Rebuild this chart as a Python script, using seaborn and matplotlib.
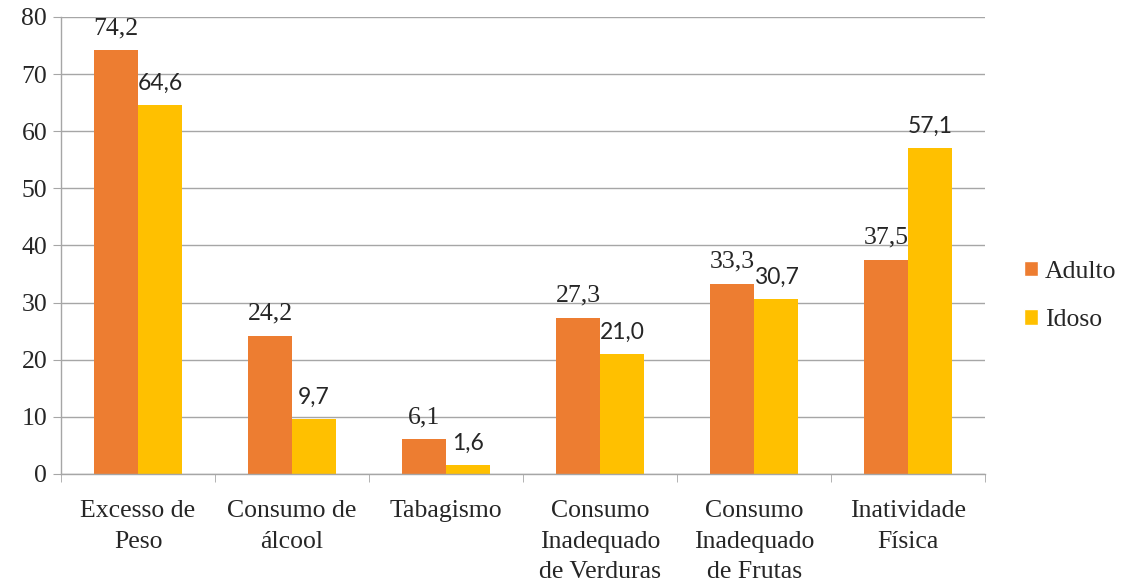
import pandas as pd
import matplotlib.pyplot as plt
import seaborn as sns
from matplotlib.patches import Patch

# data
categories = ['Excesso de\nPeso', 'Consumo de\nálcool', 'Tabagismo',
              'Consumo\nInadequado\nde Verduras', 'Consumo\nInadequado\nde Frutas',
              'Inatividade\nFísica']
adulto = [74.2, 24.2, 6.1, 27.3, 33.3, 37.5]
idoso = [64.6, 9.7, 1.6, 21.0, 30.7, 57.1]
groups = ['Adulto', 'Idoso']
colors = ['#ED7D31', '#FFC000']

df = pd.DataFrame({
    'categoria': categories * 2,
    'grupo': ['Adulto'] * len(categories) + ['Idoso'] * len(categories),
    'valor': adulto + idoso,
})

sns.set_style('white')
serif = 'Liberation Serif'
sans = 'Lato'
plt.rcParams['font.family'] = [serif, 'DejaVu Sans']

fig = plt.figure(figsize=(11.3, 5.82), dpi=100)
ax = fig.add_axes([0.054, 0.1856, 0.818, 0.7852])

sns.barplot(data=df, x='categoria', y='valor', hue='grupo', palette=colors,
            width=0.57, saturation=1, linewidth=0, ax=ax, legend=False)

def fmt(v):
    return f'{v:.1f}'.replace('.', ',')

ax.bar_label(ax.containers[0], labels=[fmt(v) for v in adulto], padding=8,
             fontsize=18.5, family=serif)
ax.bar_label(ax.containers[1], labels=[fmt(v) for v in idoso], padding=8,
             fontsize=16.5, family=sans)

ax.set_ylim(0, 80)
ax.set_xlim(-0.5, len(categories) - 0.5)
ax.set_yticks(range(0, 81, 10))
ax.yaxis.grid(True, color='#A6A6A6', linewidth=1)
ax.set_axisbelow(True)
ax.set_xlabel('')
ax.set_ylabel('')

for s in ['top', 'right']:
    ax.spines[s].set_visible(False)
for s in ['left', 'bottom']:
    ax.spines[s].set_color('#A6A6A6')
    ax.spines[s].set_linewidth(1)

ax.tick_params(axis='y', labelsize=18.5, length=6, color='#A6A6A6', left=True, pad=4)
for t in ax.get_yticklabels():
    t.set_family(serif)
ax.tick_params(axis='x', which='major', length=0, pad=19)
ax.set_xticks([i + 0.5 for i in range(-1, len(categories))], minor=True)
ax.tick_params(axis='x', which='minor', length=6, color='#A6A6A6', bottom=True)
ax.set_xticklabels(categories, fontsize=18.5, linespacing=1.5, va='top', family=serif)

handles = [Patch(facecolor=c, label=g) for g, c in zip(groups, colors)]
ax.legend(handles=handles, loc='center left', bbox_to_anchor=(1.017, 0.39),
          frameon=False, prop={'family': serif, 'size': 18.5},
          handlelength=0.55, handleheight=0.55, handletextpad=0.25, labelspacing=1.02)

fig.savefig('out.png', dpi=100)
